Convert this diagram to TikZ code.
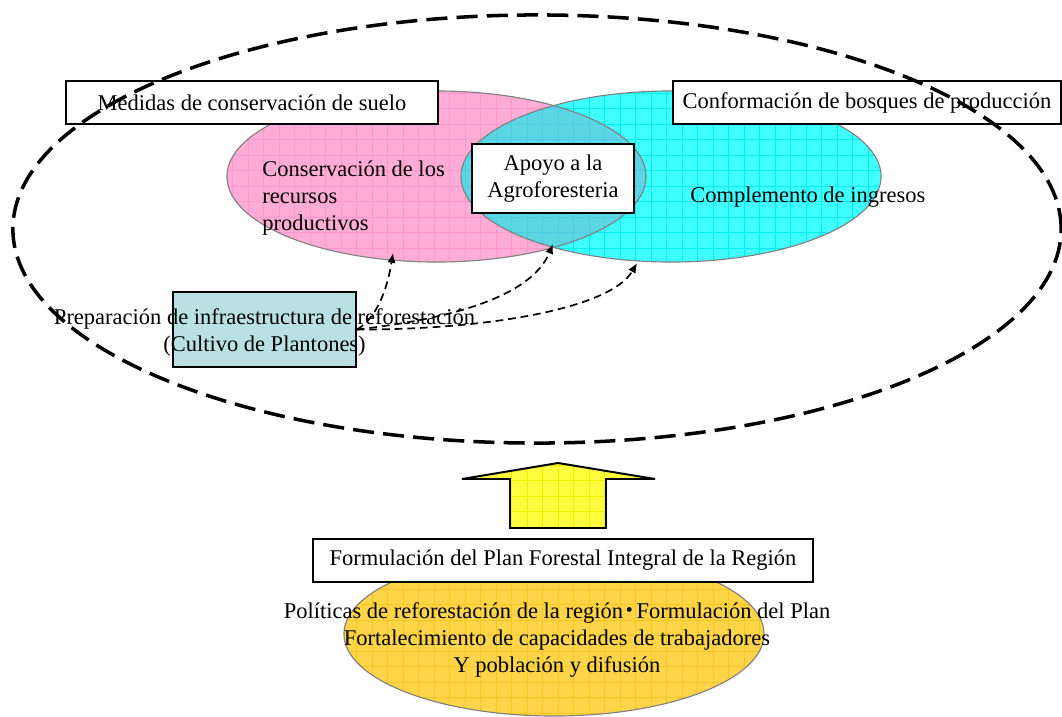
\documentclass[tikz,border=0pt]{standalone}
\usepackage{fontspec}
\setmainfont{Liberation Serif}
\newfontfamily\cjk{Noto Sans CJK JP}
\usetikzlibrary{arrows.meta,calc,positioning}

% Fill colours
\definecolor{pinkfill}{RGB}{255,172,214}
\definecolor{pinkgrid}{RGB}{255,152,202}
\definecolor{cyanfill}{RGB}{64,255,255}
\definecolor{cyangrid}{RGB}{0,238,238}
\definecolor{mixfill}{RGB}{92,214,228}
\definecolor{mixgrid}{RGB}{76,206,224}
\definecolor{arrowfill}{RGB}{255,255,64}
\definecolor{arrowgrid}{RGB}{238,238,0}
\definecolor{goldfill}{RGB}{254,212,72}
\definecolor{goldgrid}{RGB}{246,198,36}
\definecolor{nurseryfill}{RGB}{185,224,227}

\tikzset{
  titlebox/.style={draw, fill=white, line width=1pt, minimum height=1.075cm, inner sep=0pt},
  softline/.style={draw=gray, line width=0.8pt},
  gridlines/.style={line width=0.35pt, step=0.3875cm},
  feedarrow/.style={-{Latex[length=7pt,width=6pt]}, line width=1.2pt, dash pattern=on 5.5pt off 3.5pt},
  outerline/.style={line width=2.5pt, dash pattern=on 15pt off 6.5pt},
}

\begin{document}
\begin{tikzpicture}[x=0.025cm, y=-0.025cm, font=\fontsize{16}{19.2}\selectfont]
  \useasboundingbox (0,0) rectangle (1062,716);

  % Centres of the ellipses
  \coordinate (soilC) at (436.5,176.5);
  \coordinate (forestC) at (671,176.5);
  \coordinate (outerC) at (537,229);
  \coordinate (planC) at (554,634);

  % Soil conservation ellipse (pink)
  \begin{scope}
    \clip (soilC) ellipse [x radius=5.2375cm, y radius=2.1375cm];
    \fill[pinkfill] (0,716) rectangle (1062,0);
    \draw[pinkgrid, gridlines] (0,716) grid (1062,0);
  \end{scope}

  % Production forest ellipse (cyan)
  \begin{scope}
    \clip (forestC) ellipse [x radius=5.25cm, y radius=2.1375cm];
    \fill[cyanfill] (0,716) rectangle (1062,0);
    \draw[cyangrid, gridlines] (0,716) grid (1062,0);
  \end{scope}

  % Overlap of both ellipses
  \begin{scope}
    \clip (soilC) ellipse [x radius=5.2375cm, y radius=2.1375cm];
    \clip (forestC) ellipse [x radius=5.25cm, y radius=2.1375cm];
    \fill[mixfill] (0,716) rectangle (1062,0);
    \draw[mixgrid, gridlines] (0,716) grid (1062,0);
  \end{scope}
  \draw[softline] (soilC) ellipse [x radius=5.2375cm, y radius=2.1375cm];
  \draw[softline] (forestC) ellipse [x radius=5.25cm, y radius=2.1375cm];

  % Regional plan ellipse (gold)
  \begin{scope}
    \clip (planC) ellipse [x radius=5.25cm, y radius=2.05cm];
    \fill[goldfill] (0,716) rectangle (1062,0);
    \draw[goldgrid, gridlines] (0,716) grid (1062,0);
  \end{scope}
  \draw[softline] (planC) ellipse [x radius=5.25cm, y radius=2.05cm];

  % Block arrow (plan -> goals)
  \coordinate (wingL) at (462,479);
  \coordinate (tip) at (558,463);
  \coordinate (wingR) at (655,479);
  \coordinate (shaftTR) at (606,479);
  \coordinate (shaftBR) at (606,528);
  \coordinate (shaftBL) at (510,528);
  \coordinate (shaftTL) at (510,479);
  \begin{scope}
    \clip (wingL) -- (tip) -- (wingR) -- (shaftTR) -- (shaftBR) -- (shaftBL) -- (shaftTL) -- cycle;
    \fill[arrowfill] (0,716) rectangle (1062,0);
    \draw[arrowgrid, gridlines] (0,716) grid (1062,0);
  \end{scope}
  \draw[line width=1.4pt, line join=miter] (wingL) -- (tip) -- (wingR) -- (shaftTR) -- (shaftBR) -- (shaftBL) -- (shaftTL) -- cycle;

  % Title boxes
  \node[titlebox, minimum width=9.3cm] (soilBox) at (252,102.5) {Medidas de conservación de suelo};
  \node[titlebox, minimum width=9.7cm] (forestBox) at (867,102.5) {Conformación de bosques de producción};
  \node[titlebox, minimum width=4.05cm, minimum height=1.725cm, align=center] (agroBox) at (553,178.5) {Apoyo a la\\Agroforesteria};
  \node[titlebox, minimum width=12.5cm] (planBox) at (563,560.5) {Formulación del Plan Forestal Integral de la Región};

  % Ellipse texts
  \node[anchor=west, align=left, inner sep=0pt] (soilText) at (262,198.5) {Conservación de los\\recursos\\productivos};
  \node[anchor=west, inner sep=0pt] (forestText) at (690,197) {Complemento de ingresos};
  \node[align=center] (planText) at (557,640) {Políticas de reforestación de la región{\cjk\hspace{-0.2em}・\hspace{-0.2em}}Formulación del Plan\\Fortalecimiento de capacidades de trabajadores\\Y población y difusión};

  % Nursery box
  \node[draw, fill=nurseryfill, line width=1pt, minimum width=4.575cm, minimum height=1.875cm] (nursery) at (264.5,329.5) {};

  % Dashed links from the nursery
  \coordinate (soilTip) at (393,253);
  \coordinate (agroTip) at (553,244);
  \coordinate (forestTip) at (637,263);
  \draw[feedarrow] (nursery.east) .. controls (378,318) and (388,285) .. (soilTip);
  \draw[feedarrow] (nursery.east) .. controls (440,320) and (530,300) .. (agroTip);
  \draw[feedarrow] (nursery.east) .. controls (480,330) and (610,310) .. (forestTip);

  \node[align=center] (nurseryText) at (264.5,332) {Preparación de infraestructura de reforestación\\(Cultivo de Plantones)};

  % Outer dashed boundary
  \draw[outerline] (outerC) ellipse [x radius=13.1cm, y radius=5.35cm];

\end{tikzpicture}
\end{document}
